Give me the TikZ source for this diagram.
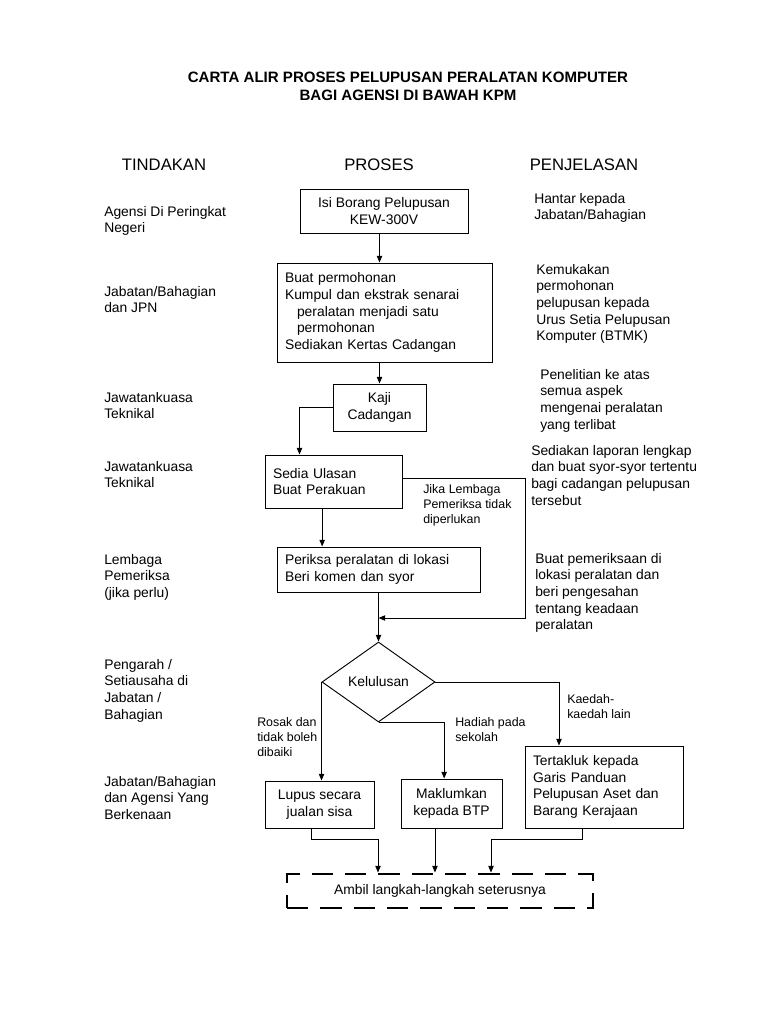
\documentclass[tikz,border=0pt]{standalone}
\usepackage{fontspec}
\setmainfont{Liberation Sans}
\usetikzlibrary{shapes.geometric,arrows.meta}
\newcommand{\bodytxt}{\fontsize{10.4pt}{12.5pt}\selectfont}
\newcommand{\smalltxt}{\fontsize{9.3pt}{11.3pt}\selectfont}
\newcommand{\headtxt}{\fontsize{12.5pt}{15pt}\selectfont}
\newcommand{\titletxt}{\fontsize{11.3pt}{13.5pt}\selectfont\bfseries}

\begin{document}
\begin{tikzpicture}[x=0.75pt,y=-0.75pt,
    box/.style={draw, line width=0.7pt, inner xsep=6pt, inner ysep=2pt, font=\bodytxt},
    lbox/.style={box, align=left, text width=#1},
    cbox/.style={box, align=center},
    col/.style={anchor=north west, align=left, inner sep=0pt, font=\bodytxt},
    note/.style={anchor=north west, align=left, inner sep=0pt, font=\smalltxt},
    arr/.style={line width=0.7pt, -{Triangle[length=5pt,width=4pt]}}]
    \useasboundingbox (0,0) rectangle (768,1024);
    \node[font=\titletxt, align=center] (judul) at (408,86) {CARTA ALIR PROSES PELUPUSAN PERALATAN KOMPUTER\\BAGI AGENSI DI BAWAH KPM};
    \foreach \x/\nama/\teks in {164/tindakan/TINDAKAN, 379/proses/PROSES, 584/jelas/PENJELASAN}{
        \node[font=\headtxt] (\nama) at (\x,165) {\teks};
    }
    % left column
    \node[col] (t1) at (104,206) {Agensi Di Peringkat\\Negeri};
    \node[col] (t2) at (104,286) {Jabatan/Bahagian\\dan JPN};
    \node[col] (t3) at (104,392) {Jawatankuasa\\Teknikal};
    \node[col] (t4) at (104,461) {Jawatankuasa\\Teknikal};
    \node[col] (t5) at (104,554) {Lembaga\\Pemeriksa\\(jika perlu)};
    \node[col] (t6) at (104,659) {Pengarah /\\Setiausaha di\\Jabatan /\\Bahagian};
    \node[col] (t7) at (104,776) {Jabatan/Bahagian\\dan Agensi Yang\\Berkenaan};
    % right column
    \node[col] (p1) at (534,193) {Hantar kepada\\Jabatan/Bahagian};
    \node[col] (p2) at (536,264) {Kemukakan\\permohonan\\pelupusan kepada\\Urus Setia Pelupusan\\Komputer (BTMK)};
    \node[col] (p3) at (540,369) {Penelitian ke atas\\semua aspek\\mengenai peralatan\\yang terlibat};
    \node[col] (p4) at (531,445) {Sediakan laporan lengkap\\dan buat syor-syor tertentu\\bagi cadangan pelupusan\\tersebut};
    \node[col] (p5) at (535,553) {Buat pemeriksaan di\\lokasi peralatan dan\\beri pengesahan\\tentang keadaan\\peralatan};
    % process
    \node[cbox, minimum width=126pt, minimum height=33pt] (isi) at (384,211) {Isi Borang Pelupusan\\KEW-300V};
    \node[lbox=149.25pt, minimum height=74.25pt] (mohon) at (384.5,312.5) {Buat permohonan\\Kumpul dan ekstrak senarai\\\hspace*{9pt}peralatan menjadi satu\\\hspace*{9pt}permohonan\\Sediakan Kertas Cadangan};
    \node[cbox, minimum width=69.75pt, minimum height=35.25pt] (kaji) at (379.5,407.5) {Kaji\\Cadangan};
    \node[lbox=90.75pt, minimum height=39.75pt] (ulasan) at (333.5,481.5) {Sedia Ulasan\\Buat Perakuan};
    \node[lbox=140.25pt, minimum height=33.75pt] (periksa) at (378.5,569.5) {Periksa peralatan di lokasi\\Beri komen dan syor};
    \node[draw, diamond, line width=0.7pt, minimum width=84.75pt, minimum height=60pt, inner sep=0pt, font=\bodytxt] (lulus) at (378.5,682) {Kelulusan};
    \node[cbox, minimum width=81.75pt, minimum height=35.25pt] (lupus) at (319.5,804.5) {Lupus secara\\jualan sisa};
    \node[cbox, minimum width=75.75pt, minimum height=36.75pt] (maklum) at (451.5,803.5) {Maklumkan\\kepada BTP};
    \node[lbox=106.5pt, minimum height=61.5pt] (panduan) at (604,787) {Tertakluk kepada\\Garis Panduan\\Pelupusan Aset dan\\Barang Kerajaan};
    \node[draw, line width=2.2pt, dash pattern=on 16pt off 9pt, minimum width=229.5pt, minimum height=25.5pt, font=\bodytxt] (ambil) at (440,891) {Ambil langkah-langkah seterusnya};
    % branch labels
    \node[note] (jika) at (423,484) {Jika Lembaga\\Pemeriksa tidak\\diperlukan};
    \node[note] (rosak) at (257,717) {Rosak dan\\tidak boleh\\dibaiki};
    \node[note] (hadiah) at (455,717) {Hadiah pada\\sekolah};
    \node[note] (kaedah) at (567,694) {Kaedah-\\kaedah lain};
    % connectors
    \coordinate (lompat) at (525,618);
    \draw[arr] (isi.south -| kaji) -- (mohon.north -| kaji);
    \draw[arr] (mohon.south -| kaji) -- (kaji.north);
    \draw[arr] (kaji.west) -| ([xshift=-25.5pt]ulasan.north);
    \draw[arr] ([yshift=2.5pt]ulasan.east) -| (lompat) -- (lompat -| periksa);
    \draw[arr] ([xshift=-8.5pt]ulasan.south) -- ([xshift=-8.5pt]ulasan.south |- periksa.north);
    \draw[arr] (periksa) -- (lulus);
    \draw[arr] (lulus.west) -- (lulus.west |- lupus.north);
    \draw[arr] (lulus.south) -| ([xshift=-5.5pt]maklum.north);
    \draw[arr] (lulus.east) -| ([xshift=-33.75pt]panduan.north);
    \draw[arr] ([xshift=-6.4pt]lupus.south) -- ++(0,11) -| ([xshift=-46.5pt]ambil.north);
    \draw[arr] ([xshift=-12.4pt]maklum.south) -- ([xshift=-12.4pt]maklum.south |- ambil.north);
    \draw[arr] ([xshift=-16.5pt]panduan.south) -- ++(0,11) -| ([xshift=38.25pt]ambil.north);
\end{tikzpicture}
\end{document}
